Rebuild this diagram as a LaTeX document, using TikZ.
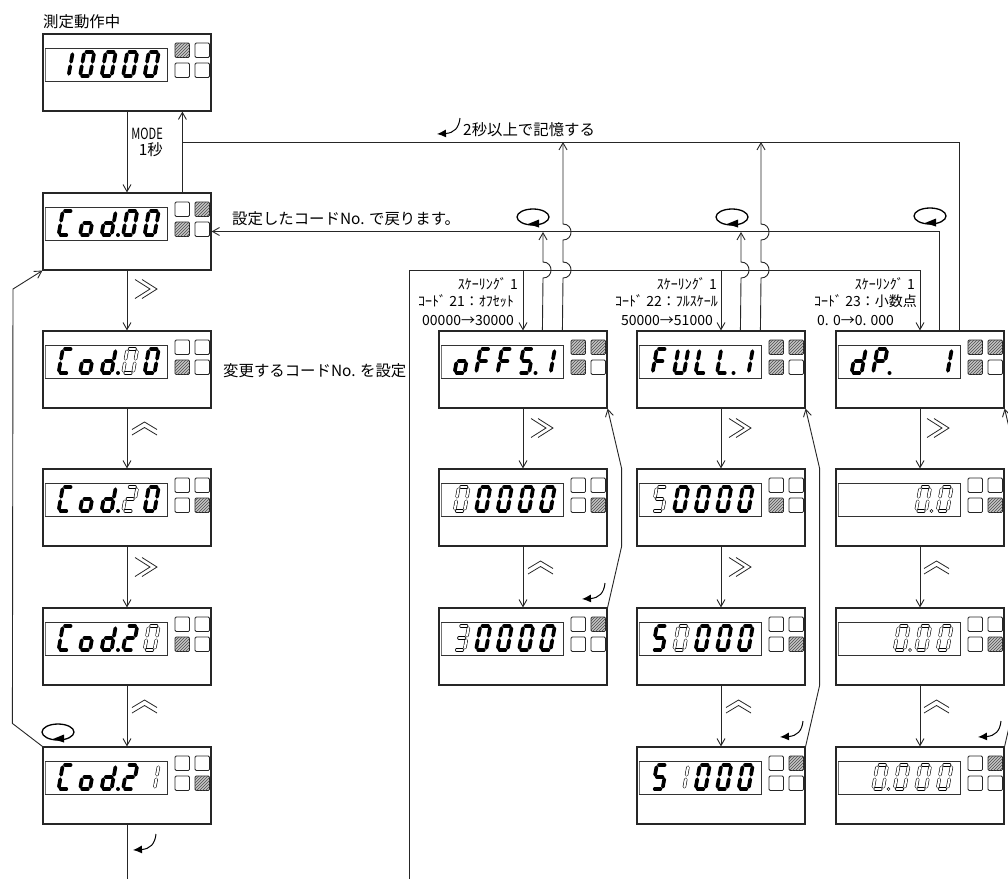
\documentclass[tikz,border=0pt]{standalone}
\usepackage{fontspec}
\usepackage{graphicx}
\setmainfont{Noto Sans CJK JP}
\usetikzlibrary{arrows.meta,patterns,calc}

\tikzset{
 conn/.style={line width=0.9pt, draw=black!85},
 arr/.style={conn, -{Straight Barb[length=7pt,width=8pt]}},
 panelbox/.style={draw=black!85, line width=1.2pt, minimum width=168pt, minimum height=77pt, inner sep=0pt},
 winline/.style={draw=black!80, line width=0.8pt},
 segon/.style={line width=3.7pt, line cap=round, draw=black},
 segbl/.style={line width=0.6pt, double distance=2.2pt, double=white, line cap=round, draw=black},
 ledbox/.style={draw=black!85, line width=0.8pt, rounded corners=1.2pt, fill=white},
 ledon/.style={draw=black!85, line width=0.8pt, rounded corners=1.2pt, fill=gray!45, postaction={pattern=north east lines, pattern color=black!70}},
 chev/.style={line width=0.8pt, draw=black!85},
 lbl/.style={inner sep=0pt, font=\fontsize{15.4}{17}\selectfont},
 slbl/.style={inner sep=0pt, font=\fontsize{14}{16}\selectfont},
 loopc/.style={line width=1.3pt, draw=black},
 entr/.style={line width=1pt, draw=black, -{Latex[length=9pt,width=8pt]}},
}

% segment paths (local coords, y negative = up)
\expandafter\def\csname SGa\endcsname{(2.2,-24)--(7.8,-24)}
\expandafter\def\csname SGb\endcsname{(10,-21.8)--(10,-14.2)}
\expandafter\def\csname SGc\endcsname{(10,-9.8)--(10,-2.2)}
\expandafter\def\csname SGd\endcsname{(2.2,0)--(7.8,0)}
\expandafter\def\csname SGe\endcsname{(0,-9.8)--(0,-2.2)}
\expandafter\def\csname SGf\endcsname{(0,-21.8)--(0,-14.2)}
\expandafter\def\csname SGg\endcsname{(2.2,-12)--(7.8,-12)}

\def\chZ{a,b,c,d,e,f}
\def\chI{b,c}
\def\chII{a,b,g,e,d}
\def\chIII{a,b,g,c,d}
\def\chV{a,f,g,c,d}
\def\chC{a,f,e,d}
\def\cho{c,d,e,g}
\def\chd{b,c,d,e,g}
\def\chF{a,f,e,g}
\def\chU{b,c,d,e,f}
\def\chL{d,e,f}
\def\chP{a,b,e,f,g}

\newcommand\dg[5]{%
 \begin{scope}[shift={({#1+15.5+21.5*#3},{#2+42})},xslant=0.18]
 \foreach \s in #4 {\expandafter\let\expandafter\segpath\csname SG\s\endcsname \draw[#5] \segpath;}
 \end{scope}}
\newcommand\dpon[3]{\fill[black] ({#1+15.5+21.5*#3+16.5},{#2+42}) circle[radius=2pt];}
\newcommand\dpbl[3]{\draw[black, line width=0.5pt, fill=white] ({#1+15.5+21.5*#3+15.5},{#2+42}) circle[radius=1.6pt];}

\newcommand\panel[3]{%
 \node[panelbox] (#1) at ({#2+84},{#3+38.5}) {};
 \draw[winline] ({#2+2},{#3+14}) rectangle ({#2+124},{#3+47});
 \draw[line width=1.6pt, black!55] ({#2+2.6},{#3+14.5}) -- ({#2+2.6},{#3+46.5});
}
\newcommand\leds[3]{%
 \foreach \v [count=\k from 0] in {#3}{%
   \pgfmathtruncatemacro\cc{mod(\k,2)}%
   \pgfmathtruncatemacro\rr{\k/2}%
   \ifnum\v=1
     \draw[ledon] ({#1+132+20*\cc},{#2+9+20*\rr}) rectangle ++(14.5,14.5);
   \else
     \draw[ledbox] ({#1+132+20*\cc},{#2+9+20*\rr}) rectangle ++(14.5,14.5);
   \fi
 }}
\newcommand\rch[2]{%
 \draw[chev] ({#1+8},{#2+10.5}) -- ({#1+23},{#2+20}) -- ({#1+8},{#2+29.5});
 \draw[chev] ({#1+15},{#2+10.5}) -- ({#1+30},{#2+20}) -- ({#1+15},{#2+29.5});}
\newcommand\uch[2]{%
 \draw[chev] ({#1+5},{#2+21.5}) -- ({#1+17.5},{#2+14}) -- ({#1+30},{#2+21.5});
 \draw[chev] ({#1+5},{#2+27}) -- ({#1+17.5},{#2+19.5}) -- ({#1+30},{#2+27});}
\newcommand\loopsym[2]{%
 \draw[loopc] (#1,#2) ellipse [x radius=16pt, y radius=8pt];
 \fill[black] ({#1-5},{#2+7}) -- ({#1+6},{#2+2.5}) -- ({#1+6},{#2+10.5}) -- cycle;}
\newcommand\entsym[2]{%
 \draw[entr] (#1,#2) .. controls ({#1-1},{#2+10}) and ({#1-6},{#2+15}) .. ({#1-23},{#2+16});}
\newcommand\hop[2]{-- (#1,{#2+8}) .. controls ({#1+10.7},{#2+8}) and ({#1+10.7},{#2-8}) .. (#1,{#2-8})}

\begin{document}
\begin{tikzpicture}[x=1pt,y=-1pt]
\useasboundingbox (0,0) rectangle (1008,879);
\fill[white] (0,0) rectangle (1008,879);

% ---------- panels ----------
\panel{b1}{43}{34}
\panel{b2}{43}{193}
\panel{b3}{43}{331}
\panel{b4}{43}{469}
\panel{b5}{43}{608}
\panel{b6}{43}{747}
\panel{o1}{439}{331}
\panel{o2}{439}{469}
\panel{o3}{439}{608}
\panel{f1}{637}{331}
\panel{f2}{637}{469}
\panel{f3}{637}{608}
\panel{f4}{637}{747}
\panel{d1}{836}{331}
\panel{d2}{836}{469}
\panel{d3}{836}{608}
\panel{d4}{836}{747}

% ---------- indicators ----------
\leds{43}{34}{1,0,0,0}
\leds{43}{193}{0,1,1,0}
\leds{43}{331}{0,0,1,0}
\leds{43}{469}{0,0,0,1}
\leds{43}{608}{0,0,1,0}
\leds{43}{747}{0,0,0,1}
\leds{439}{331}{1,1,1,0}
\leds{439}{469}{0,0,0,1}
\leds{439}{608}{0,1,0,0}
\leds{637}{331}{1,1,1,0}
\leds{637}{469}{0,0,1,0}
\leds{637}{608}{0,0,0,1}
\leds{637}{747}{0,1,0,0}
\leds{836}{331}{1,1,1,0}
\leds{836}{469}{0,0,0,1}
\leds{836}{608}{0,0,0,1}
\leds{836}{747}{0,1,0,0}

% ---------- digits ----------
% b1 10000
\dg{43}{34}{0}{\chI}{segon}\dg{43}{34}{1}{\chZ}{segon}\dg{43}{34}{2}{\chZ}{segon}\dg{43}{34}{3}{\chZ}{segon}\dg{43}{34}{4}{\chZ}{segon}
% b2 Cod.00
\dg{43}{193}{0}{\chC}{segon}\dg{43}{193}{1}{\cho}{segon}\dg{43}{193}{2}{\chd}{segon}\dpon{43}{193}{2}\dg{43}{193}{3}{\chZ}{segon}\dg{43}{193}{4}{\chZ}{segon}
% b3 Cod.00 (blink 4th)
\dg{43}{331}{0}{\chC}{segon}\dg{43}{331}{1}{\cho}{segon}\dg{43}{331}{2}{\chd}{segon}\dpon{43}{331}{2}\dg{43}{331}{3}{\chZ}{segbl}\dg{43}{331}{4}{\chZ}{segon}
% b4 Cod.20 (blink 2)
\dg{43}{469}{0}{\chC}{segon}\dg{43}{469}{1}{\cho}{segon}\dg{43}{469}{2}{\chd}{segon}\dpon{43}{469}{2}\dg{43}{469}{3}{\chII}{segbl}\dg{43}{469}{4}{\chZ}{segon}
% b5 Cod.20 (blink 0)
\dg{43}{608}{0}{\chC}{segon}\dg{43}{608}{1}{\cho}{segon}\dg{43}{608}{2}{\chd}{segon}\dpon{43}{608}{2}\dg{43}{608}{3}{\chII}{segon}\dg{43}{608}{4}{\chZ}{segbl}
% b6 Cod.21
\dg{43}{747}{0}{\chC}{segon}\dg{43}{747}{1}{\cho}{segon}\dg{43}{747}{2}{\chd}{segon}\dpon{43}{747}{2}\dg{43}{747}{3}{\chII}{segon}\dg{43}{747}{4}{\chI}{segbl}
% o1 oFFS.1
\dg{439}{331}{0}{\cho}{segon}\dg{439}{331}{1}{\chF}{segon}\dg{439}{331}{2}{\chF}{segon}\dg{439}{331}{3}{\chV}{segon}\dpon{439}{331}{3}\dg{439}{331}{4}{\chI}{segon}
% o2 00000
\dg{439}{469}{0}{\chZ}{segbl}\dg{439}{469}{1}{\chZ}{segon}\dg{439}{469}{2}{\chZ}{segon}\dg{439}{469}{3}{\chZ}{segon}\dg{439}{469}{4}{\chZ}{segon}
% o3 30000
\dg{439}{608}{0}{\chIII}{segbl}\dg{439}{608}{1}{\chZ}{segon}\dg{439}{608}{2}{\chZ}{segon}\dg{439}{608}{3}{\chZ}{segon}\dg{439}{608}{4}{\chZ}{segon}
% f1 FULL.1
\dg{637}{331}{0}{\chF}{segon}\dg{637}{331}{1}{\chU}{segon}\dg{637}{331}{2}{\chL}{segon}\dg{637}{331}{3}{\chL}{segon}\dpon{637}{331}{3}\dg{637}{331}{4}{\chI}{segon}
% f2 50000 blink 5
\dg{637}{469}{0}{\chV}{segbl}\dg{637}{469}{1}{\chZ}{segon}\dg{637}{469}{2}{\chZ}{segon}\dg{637}{469}{3}{\chZ}{segon}\dg{637}{469}{4}{\chZ}{segon}
% f3 50000 blink 2nd
\dg{637}{608}{0}{\chV}{segon}\dg{637}{608}{1}{\chZ}{segbl}\dg{637}{608}{2}{\chZ}{segon}\dg{637}{608}{3}{\chZ}{segon}\dg{637}{608}{4}{\chZ}{segon}
% f4 51000
\dg{637}{747}{0}{\chV}{segon}\dg{637}{747}{1}{\chI}{segbl}\dg{637}{747}{2}{\chZ}{segon}\dg{637}{747}{3}{\chZ}{segon}\dg{637}{747}{4}{\chZ}{segon}
% d1 dP.  1
\dg{836}{331}{0}{\chd}{segon}\dg{836}{331}{1}{\chP}{segon}\dpon{836}{331}{1}\dg{836}{331}{4}{\chI}{segon}
% d2 0.0
\dg{836}{469}{3}{\chZ}{segbl}\dpbl{836}{469}{3}\dg{836}{469}{4}{\chZ}{segbl}
% d3 0.00
\dg{836}{608}{2}{\chZ}{segbl}\dpbl{836}{608}{2}\dg{836}{608}{3}{\chZ}{segbl}\dg{836}{608}{4}{\chZ}{segbl}
% d4 0.000
\dg{836}{747}{1}{\chZ}{segbl}\dpbl{836}{747}{1}\dg{836}{747}{2}{\chZ}{segbl}\dg{836}{747}{3}{\chZ}{segbl}\dg{836}{747}{4}{\chZ}{segbl}

% ---------- connectors ----------
\coordinate (hA) at (0,142);
\coordinate (hC) at (0,270);
\coordinate (bot) at (0,879);
\coordinate (j1) at ($(b1.south west)+(140,31)$);
\coordinate (dq) at ($(d1.north west)+(124,0)$);
\coordinate (dr) at ($(d1.north west)+(104,0)$);
\coordinate (hl) at (409,879);
% left column
\draw[arr] (b1.south) -- (b2.north);
\draw[arr] (b2.south) -- (b3.north);
\draw[arr] (b3.south) -- (b4.north);
\draw[arr] (b4.south) -- (b5.north);
\draw[arr] (b5.south) -- (b6.north);
\draw[conn] (b6.south) -- (b6.south |- bot);
\draw[arr] ($(b2.north west)+(140,0)$) -- ($(b1.south west)+(140,0)$);
\draw[conn] (dq) |- (j1);
\draw[arr] (b6.north west) -- ++(-30,-23) -- (13,289) -- (b2.south west);
% return to code line
\draw[arr] (dr) |- (b2.east);
% distribution line
\draw[arr] (hl) |- (d1.north |- hC) -- (d1.north);
\draw[arr] (o1.north |- hC) -- (o1.north);
\draw[arr] (f1.north |- hC) -- (f1.north);
% up lines with hops
\draw[arr] ($(o1.north west)+(104,0)$) \hop{543}{270} -- (543,232);
\draw[arr] ($(f1.north west)+(104,0)$) \hop{741}{270} -- (741,232);
\draw[arr] ($(o1.north west)+(124,0)$) \hop{563}{270} \hop{563}{232} -- (563,142);
\draw[arr] ($(f1.north west)+(124,0)$) \hop{761}{270} \hop{761}{232} -- (761,142);
% offset column
\draw[arr] (o1.south) -- (o2.north);
\draw[arr] (o2.south) -- (o3.north);
\draw[arr] (o3.north east) -- ++(14,-61) -- ++(0,-78) -- (o1.south east);
% full column
\draw[arr] (f1.south) -- (f2.north);
\draw[arr] (f2.south) -- (f3.north);
\draw[arr] (f3.south) -- (f4.north);
\draw[arr] (f4.north east) -- ++(14,-61) -- ++(0,-217) -- (f1.south east);
% dP column
\draw[arr] (d1.south) -- (d2.north);
\draw[arr] (d2.south) -- (d3.north);
\draw[arr] (d3.south) -- (d4.north);
\draw[arr] (d4.north east) -- ++(14,-61) -- ++(0,-217) -- (d1.south east);

% ---------- chevrons ----------
\rch{127}{269}\uch{127}{408}\rch{127}{547}\uch{127}{686}
\rch{523}{408}\uch{523}{547}
\rch{721}{408}\rch{721}{547}\uch{721}{686}
\rch{919}{408}\uch{919}{547}\uch{919}{686}

% ---------- loop and enter symbols ----------
\loopsym{58}{732}
\loopsym{533}{217}
\loopsym{732}{217}
\loopsym{930}{216}
\entsym{156}{834}
\entsym{605}{583}
\entsym{803}{721}
\entsym{1001}{721}
\entsym{460}{118}

% ---------- texts ----------
\node[lbl, anchor=west] (t0) at (43,22) {測定動作中};
\node[lbl, anchor=east] (t1) at (163,134) {\scalebox{0.72}[1]{MODE}};
\node[lbl, anchor=east] (t2) at (163,150) {1秒};
\node[lbl, anchor=west] (t3) at (463,130) {2秒以上で記憶する};
\node[lbl, anchor=west] (t4) at (232,219) {設定したコードNo. で戻ります。};
\node[lbl, anchor=west] (t5) at (223,371) {変更するコードNo. を設定};
\node[slbl, anchor=east] (o1a) at (518,284) {ｽｹｰﾘﾝｸﾞ 1};
\node[slbl, anchor=west] (o1b) at (418,301) {ｺｰﾄﾞ 21：ｵﾌｾｯﾄ};
\node[slbl, anchor=west] (o1c) at (422,320) {00000→30000};
\node[slbl, anchor=east] (f1a) at (717,284) {ｽｹｰﾘﾝｸﾞ 1};
\node[slbl, anchor=east] (f1b) at (718,301) {ｺｰﾄﾞ 22：ﾌﾙｽｹｰﾙ};
\node[slbl, anchor=east] (f1c) at (713,320) {50000→51000};
\node[slbl, anchor=east] (d1a) at (915,284) {ｽｹｰﾘﾝｸﾞ 1};
\node[slbl, anchor=east] (d1b) at (917,301) {ｺｰﾄﾞ 23：小数点};
\node[slbl, anchor=west] (d1c) at (817,320) {0. 0→0. 000};
\end{tikzpicture}
\end{document}
